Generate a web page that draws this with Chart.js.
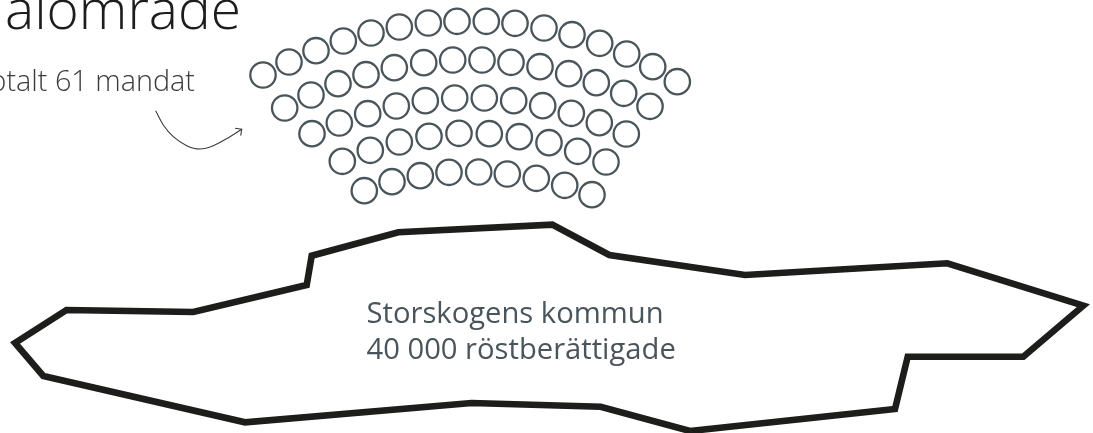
<!DOCTYPE html>
<html>
<head>
<meta charset="utf-8">
<title>Valområde</title>
<script src="https://cdn.jsdelivr.net/npm/chart.js@4"></script>
<style>
    html, body { margin: 0; padding: 0; background: #fff; overflow: hidden; }
    #wrap { width: 1093px; height: 433px; }
</style>
</head>
<body>
<div id="wrap"><canvas id="myChart" width="1093" height="433"></canvas></div>
<script>
// Mandaten, rad för rad (yttersta raden först)
var seatRow1X = [263, 289, 316, 343.3, 371, 399.3, 428.3, 457, 486.3, 515, 544, 572, 599.7, 626.7, 652.7, 677.3];
var seatRow1Y = [75, 62, 50.7, 41, 33, 27, 23, 21.3, 21.3, 23.3, 28, 34.7, 43.3, 54, 66.7, 81.7];
var seatRow2X = [284.7, 311, 338, 366, 394.3, 423.7, 452.7, 482, 511, 540, 568.7, 596.3, 623.7, 650];
var seatRow2Y = [108, 95, 83.7, 74.7, 67.7, 62.7, 60, 60, 62.3, 66.7, 73.7, 82.7, 93.3, 106.3];
var seatRow3X = [312, 339.3, 367.7, 396.3, 425.3, 454.7, 484.3, 513.7, 542.7, 571.3, 599.3, 626.3];
var seatRow3Y = [133.7, 123, 113.7, 106, 100.7, 98, 98, 100.7, 105.7, 113.3, 122.7, 134];
var seatRow4X = [342.3, 370.3, 399.3, 429, 459, 489.3, 519.3, 549, 577.7, 606];
var seatRow4Y = [161.3, 150.3, 142, 136.3, 133.3, 133.7, 136.7, 142.7, 151.3, 162];
var seatRow5X = [364.3, 392, 420.3, 449, 478.7, 507.3, 536.3, 564.7, 592];
var seatRow5Y = [190.7, 181.7, 175.7, 172.3, 172, 174, 178.3, 185.3, 194.7];

// Kommunens kontur
var outlineX = [130, 193.3, 306.7, 311.7, 398.3, 552.3, 609.3, 745, 947.3, 1083.3, 1023.3, 907.7, 895, 690, 600.7, 471.7, 245, 43.3, 15, 66.5, 130];
var outlineY = [311, 312, 285, 255.7, 232.3, 224.7, 255, 275, 263.3, 305.7, 356.7, 356.7, 409, 431, 406.7, 403, 422.3, 376, 343, 310, 311];

// Pilen
var arrowX = [155.7, 163.3, 173.3, 186.7, 200, 213.3, 230, 241.7];
var arrowY = [110.7, 125, 136.7, 145.7, 149, 145.7, 136.7, 129.3];
var arrowHeadX = [235, 241.7, 240.7];
var arrowHeadY = [128.3, 129.3, 135.7];

var titleText = 'alområde';
var seatsText = 'otalt 61 mandat';
var areaText = ['Storskogens kommun', '40 000 röstberättigade'];

function toPoints(xs, ys) {
    return xs.map(function (x, i) {
        return { x: x, y: ys[i] };
    });
}

function seatDataset(xs, ys) {
    return {
        data: toPoints(xs, ys),
        showLine: false,
        pointRadius: 12.7,
        pointBorderWidth: 2.3,
        pointBorderColor: '#4a555b',
        pointBackgroundColor: 'rgba(255, 255, 255, 0)'
    };
}

function lineDataset(xs, ys, color, width, tension) {
    return {
        data: toPoints(xs, ys),
        showLine: true,
        pointRadius: 0,
        borderColor: color,
        borderWidth: width,
        borderJoinStyle: 'miter',
        tension: tension
    };
}

// Texterna ritas sist, ovanpå figuren
var textPlugin = {
    id: 'texts',
    afterDraw: function (chart) {
        var ctx = chart.ctx;
        var sx = chart.scales.x;
        var sy = chart.scales.y;
        ctx.save();
        ctx.textBaseline = 'alphabetic';

        ctx.fillStyle = '#1d1d1b';
        ctx.font = '300 55px "Open Sans"';
        ctx.textAlign = 'left';
        ctx.fillText(titleText, sx.getPixelForValue(5), sy.getPixelForValue(29));

        ctx.fillStyle = '#3c3c3b';
        ctx.font = '300 28.8px "Open Sans"';
        ctx.textAlign = 'right';
        ctx.fillText(seatsText, sx.getPixelForValue(195), sy.getPixelForValue(91));

        ctx.fillStyle = '#4a555b';
        ctx.font = '400 29.2px "Open Sans"';
        ctx.textAlign = 'left';
        ctx.fillText(areaText[0], sx.getPixelForValue(366.5), sy.getPixelForValue(323));
        ctx.fillText(areaText[1], sx.getPixelForValue(366.5), sy.getPixelForValue(358.5));
        ctx.restore();
    }
};

var ctx = document.getElementById('myChart').getContext('2d');
new Chart(ctx, {
    type: 'scatter',
    data: {
        datasets: [
            seatDataset(seatRow1X, seatRow1Y),
            seatDataset(seatRow2X, seatRow2Y),
            seatDataset(seatRow3X, seatRow3Y),
            seatDataset(seatRow4X, seatRow4Y),
            seatDataset(seatRow5X, seatRow5Y),
            lineDataset(outlineX, outlineY, '#1d1d1b', 6.6, 0),
            lineDataset(arrowX, arrowY, '#3c3c3b', 1.1, 0.4),
            lineDataset(arrowHeadX, arrowHeadY, '#3c3c3b', 1.1, 0)
        ]
    },
    options: {
        responsive: false,
        animation: false,
        layout: { padding: 0, autoPadding: false },
        clip: false,
        scales: {
            x: { type: 'linear', min: 0, max: 1093, display: false },
            y: { type: 'linear', min: 0, max: 433, reverse: true, display: false }
        },
        plugins: {
            legend: { display: false },
            title: { display: false },
            tooltip: { enabled: false }
        }
    },
    plugins: [textPlugin]
});
</script>
</body>
</html>
